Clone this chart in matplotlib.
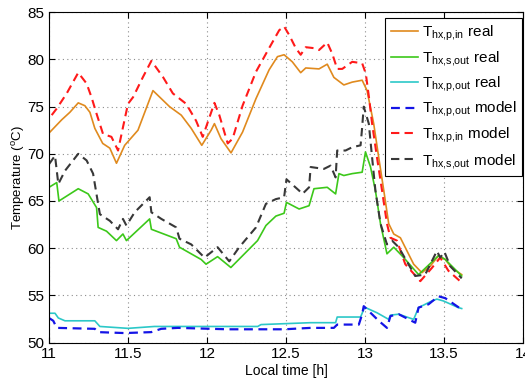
import numpy as np
import matplotlib
matplotlib.use('Agg')
import matplotlib.pyplot as plt

# ------- data (time [h], temperature [degC])
t_pin_real = [11.000, 11.080, 11.132, 11.185, 11.227, 11.259, 11.290, 11.340, 11.385, 11.427,
              11.479, 11.563, 11.658, 11.763, 11.837, 11.900, 11.967, 12.026, 12.047, 12.089,
              12.152, 12.225, 12.310, 12.393, 12.446, 12.488, 12.540, 12.593, 12.625, 12.709,
              12.761, 12.803, 12.866, 12.919, 12.982, 13.013, 13.055, 13.087, 13.119, 13.150,
              13.182, 13.224, 13.245, 13.308, 13.360, 13.413, 13.465, 13.508, 13.549, 13.612]
T_pin_real = [72.2, 73.6, 74.4, 75.4, 75.1, 74.4, 72.7, 71.1, 70.6, 69.0,
              70.9, 72.5, 76.7, 75.0, 74.1, 72.7, 70.9, 72.5, 73.2, 71.6,
              70.1, 72.3, 75.85, 78.9, 80.3, 80.5, 79.75, 78.6, 79.1, 79.0,
              79.5, 78.1, 77.3, 77.6, 77.8, 76.7, 73.2, 69.6, 66.1, 62.6,
              61.5, 61.1, 60.4, 58.3, 57.4, 58.1, 59.2, 58.8, 57.9, 57.2]

t_sout_real = [11.000, 11.049, 11.063, 11.185, 11.248, 11.301, 11.311, 11.364, 11.427, 11.468,
               11.490, 11.637, 11.648, 11.805, 11.826, 11.963, 11.994, 12.067, 12.151, 12.320,
               12.373, 12.436, 12.488, 12.503, 12.583, 12.646, 12.677, 12.761, 12.814, 12.835,
               12.866, 12.919, 12.982, 13.003, 13.035, 13.066, 13.098, 13.139, 13.182, 13.245,
               13.339, 13.465, 13.508, 13.612]
T_sout_real = [66.45, 66.95, 65.0, 66.3, 65.75, 64.3, 62.2, 61.8, 60.8, 61.5,
               60.8, 63.1, 62.0, 61.0, 60.1, 58.8, 58.3, 59.1, 57.95, 60.8,
               62.4, 63.4, 63.7, 64.85, 64.15, 64.5, 66.3, 66.45, 65.75, 67.9,
               67.7, 67.9, 68.05, 70.2, 68.6, 66.1, 62.6, 59.4, 60.1, 59.0,
               57.2, 59.2, 58.8, 57.05]

t_pout_real = [11.000, 11.038, 11.059, 11.101, 11.290, 11.322, 11.500, 11.668, 11.816, 12.321,
               12.342, 12.656, 12.814, 12.824, 12.972, 12.997, 13.003, 13.076, 13.150, 13.161,
               13.213, 13.308, 13.339, 13.423, 13.455, 13.497, 13.591, 13.612]
T_pout_real = [53.1, 53.1, 52.6, 52.3, 52.3, 51.7, 51.5, 51.7, 51.7, 51.7,
               51.9, 52.1, 52.1, 52.7, 52.7, 53.7, 53.7, 53.15, 52.45, 52.9,
               53.0, 52.45, 53.7, 54.4, 54.6, 54.4, 53.7, 53.6]

t_pout_model = [11.000, 11.027, 11.049, 11.290, 11.311, 11.479, 11.647, 11.710, 11.816, 12.131,
                12.488, 12.656, 12.803, 12.824, 12.961, 12.982, 12.992, 13.087, 13.139, 13.161,
                13.213, 13.318, 13.339, 13.402, 13.465, 13.508, 13.612]
T_pout_model = [52.6, 52.3, 51.55, 51.45, 51.1, 51.0, 51.1, 51.45, 51.55, 51.4,
                51.4, 51.55, 51.55, 51.9, 51.9, 53.0, 53.85, 52.3, 51.55, 52.8,
                53.0, 52.1, 53.7, 54.05, 54.9, 54.7, 53.5]

t_pin_model = [11.017, 11.049, 11.112, 11.185, 11.238, 11.269, 11.301, 11.342, 11.395, 11.437,
               11.468, 11.500, 11.532, 11.595, 11.648, 11.721, 11.784, 11.868, 11.931, 11.973,
               12.047, 12.078, 12.131, 12.162, 12.225, 12.310, 12.393, 12.457, 12.488, 12.520,
               12.562, 12.593, 12.625, 12.677, 12.709, 12.761, 12.793, 12.824, 12.856, 12.919,
               12.982, 13.005, 13.025, 13.045, 13.076, 13.108, 13.139, 13.161, 13.202, 13.255,
               13.350, 13.423, 13.476, 13.528, 13.612]
T_pin_model = [74.1, 74.8, 76.4, 78.6, 77.45, 76.0, 74.25, 72.1, 71.8, 70.35,
               72.8, 75.3, 76.0, 78.15, 79.85, 78.15, 76.4, 75.3, 73.5, 71.8,
               75.4, 74.1, 71.1, 71.6, 75.1, 78.7, 81.2, 83.1, 83.5, 82.6,
               81.2, 80.5, 81.3, 81.2, 81.0, 81.8, 80.6, 79.0, 79.0, 79.75,
               79.6, 78.5, 76.0, 73.2, 69.6, 66.1, 62.6, 61.1, 60.8, 58.3,
               56.5, 57.9, 59.0, 57.6, 56.35]

t_sout_model = [11.000, 11.038, 11.059, 11.101, 11.185, 11.238, 11.279, 11.322, 11.385, 11.437,
                11.468, 11.490, 11.542, 11.637, 11.648, 11.711, 11.805, 11.826, 11.900, 11.984,
                12.067, 12.141, 12.204, 12.310, 12.373, 12.436, 12.488, 12.503, 12.583, 12.604,
                12.646, 12.656, 12.740, 12.782, 12.814, 12.824, 12.877, 12.919, 12.972, 12.982,
                12.992, 13.024, 13.045, 13.066, 13.098, 13.139, 13.171, 13.213, 13.318, 13.381,
                13.455, 13.476, 13.503, 13.539, 13.612]
T_sout_model = [68.9, 69.8, 66.8, 68.2, 70.0, 69.3, 67.9, 63.6, 62.9, 62.0,
                63.1, 62.4, 63.8, 65.4, 63.8, 63.1, 62.2, 61.0, 60.4, 59.0,
                60.1, 58.6, 60.1, 62.2, 64.7, 65.2, 65.4, 67.3, 66.1, 65.75,
                66.45, 68.6, 68.4, 68.75, 67.5, 70.35, 70.35, 70.7, 70.9, 72.8,
                75.0, 73.2, 69.6, 66.1, 62.6, 60.4, 60.8, 60.1, 57.05, 57.2,
                59.7, 59.0, 59.6, 58.1, 56.8]

x_ticks = [11, 11.5, 12, 12.5, 13, 13.5, 14]
x_labels = ['11', '11.5', '12', '12.5', '13', '13.5', '14']
y_ticks = [50, 55, 60, 65, 70, 75, 80, 85]

#------- plot appearance
params = {'font.family': 'Liberation Sans',
          'mathtext.fontset': 'custom',
          'mathtext.rm': 'Liberation Sans',
          'mathtext.it': 'Liberation Sans',
          'xtick.direction': 'in',
          'ytick.direction': 'in',
          'xtick.top': True,
          'ytick.right': True,
          'xtick.major.size': 4,
          'ytick.major.size': 4,
          'axes.linewidth': 0.8,
          }
plt.rcParams.update(params)

# ---------figure plotting
fig = plt.figure(figsize=(5.25, 3.81), dpi=100)
ax = fig.add_axes([49/525, 38.5/381, 474/525, 330.2/381])

ax.plot(t_pin_real, T_pin_real, color='#E08A1E', linewidth=1.2,
        label=r'$\mathregular{T_{hx{,}p{,}in}}$ real')
ax.plot(t_sout_real, T_sout_real, color='#3CC81A', linewidth=1.2,
        label=r'$\mathregular{T_{hx{,}s{,}out}}$ real')
ax.plot(t_pout_real, T_pout_real, color='#2CC8C8', linewidth=1.2,
        label=r'$\mathregular{T_{hx{,}p{,}out}}$ real')
ax.plot(t_pout_model, T_pout_model, color='#1414E6', linewidth=1.6, dashes=(4, 2.5),
        label=r'$\mathregular{T_{hx{,}p{,}out}}$ model')
ax.plot(t_pin_model, T_pin_model, color='#FF1A1A', linewidth=1.5, dashes=(4, 2.5),
        label=r'$\mathregular{T_{hx{,}p{,}in}}$ model')
ax.plot(t_sout_model, T_sout_model, color='#383838', linewidth=1.5, dashes=(4, 2.5),
        label=r'$\mathregular{T_{hx{,}s{,}out}}$ model')

ax.set_xlim(11, 14)
ax.set_ylim(50, 85)
ax.set_xticks(x_ticks)
ax.set_xticklabels(x_labels, fontsize=11)
ax.set_yticks(y_ticks)
ax.set_yticklabels([str(v) for v in y_ticks], fontsize=11)
ax.grid(color='#8c8c8c', linestyle=(0, (1, 3)), linewidth=0.8)
ax.set_xlabel('Local time [h]', fontsize=10, labelpad=2)
ax.set_ylabel(r'Temperature ($^o$C)', fontsize=9.5, labelpad=0)

leg = ax.legend(loc='upper right', bbox_to_anchor=(0.998, 0.983), borderaxespad=0,
                fontsize=11, handlelength=1.8, handletextpad=0.25, labelspacing=0.42,
                borderpad=0.35, fancybox=False, framealpha=1, edgecolor='black')
leg.get_frame().set_linewidth(0.8)

fig.savefig('out.png', dpi=100)
